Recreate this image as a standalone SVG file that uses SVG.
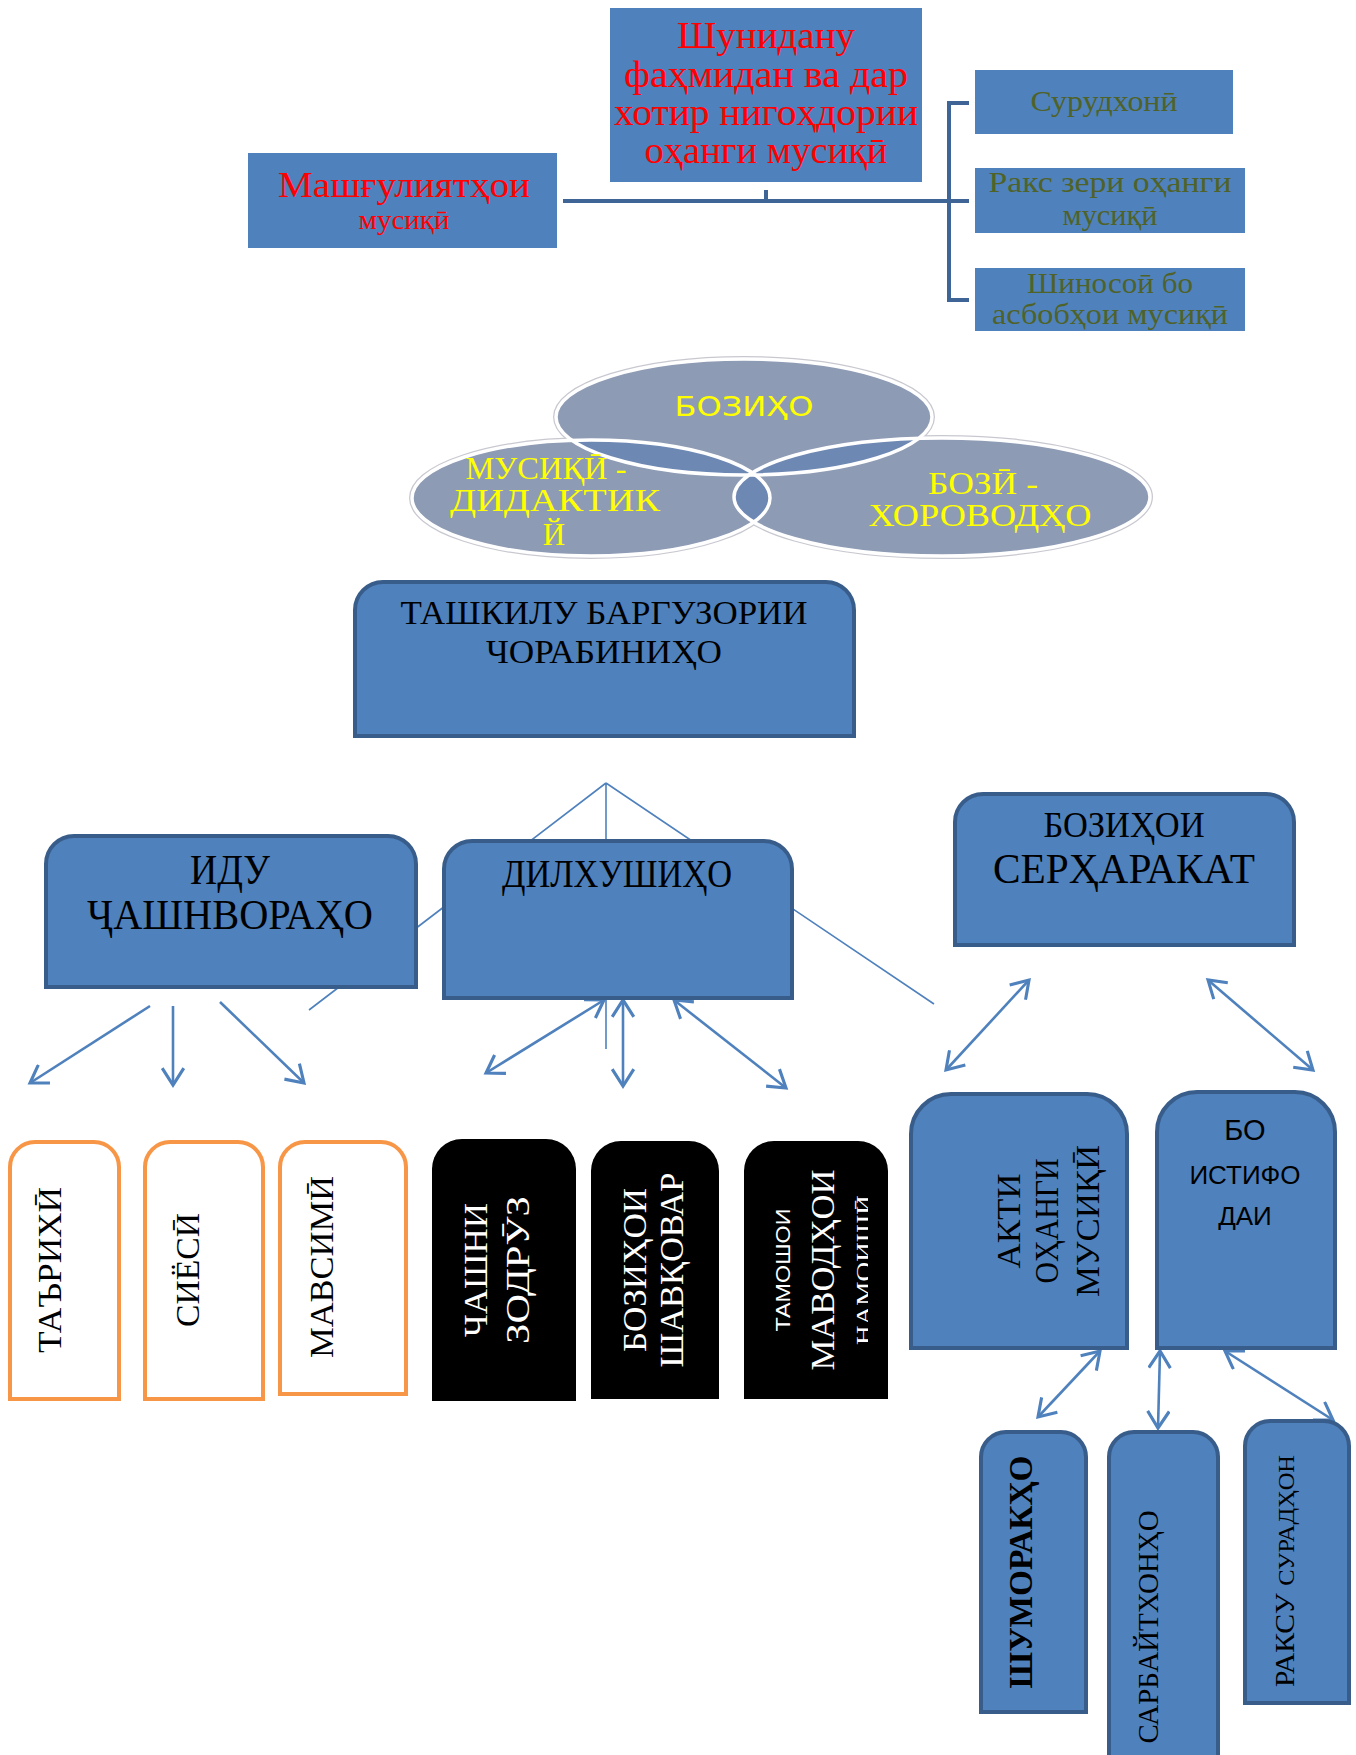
<svg xmlns="http://www.w3.org/2000/svg" width="1356" height="1755" viewBox="0 0 1356 1755">
<style>
.serif{font-family:"Liberation Serif","Times New Roman",serif}
.sans{font-family:"Liberation Sans",Arial,sans-serif}
.dv{font-family:"DejaVu Sans Condensed","DejaVu Sans",sans-serif}
.flat{fill:#4F81BD}
.blue{fill:#4F81BD;stroke:#385D8A;stroke-width:4}
.orange{fill:#FFFFFF;stroke:#F79646;stroke-width:4}
.black{fill:#000000}
.red{fill:#FF0000;text-anchor:middle}
.olive{fill:#4F6228;text-anchor:middle}
.yel{fill:#FFFF00;text-anchor:middle}
.blk{fill:#000000;text-anchor:middle}
.wht{fill:#FFFFFF;text-anchor:middle}
.thin{stroke:#4F81BD;stroke-width:1.6;fill:none}
.arr{stroke:#4F81BD;stroke-width:2.6;fill:none;marker-end:url(#ah)}
.arr2{stroke:#4F81BD;stroke-width:2.6;fill:none;marker-end:url(#ah);marker-start:url(#ah)}
.bar{stroke:#3F6596;stroke-width:4;fill:none}
.ell{fill:#8E9BB4}
.ov{fill:#6E88B4}
.eo{fill:none;stroke:#FFFFFF;stroke-width:3.5}
.es{fill:none;stroke:#C8C8D0;stroke-width:6}
</style>
<defs>
<marker id="ah" markerUnits="userSpaceOnUse" markerWidth="24" markerHeight="24" refX="16" refY="10" orient="auto-start-reverse" viewBox="0 0 20 20">
<path d="M2,1 L16,10 L2,19" fill="none" stroke="#4F81BD" stroke-width="2.6"/>
</marker>
<clipPath id="cT"><ellipse cx="744" cy="417" rx="188" ry="58"/></clipPath>
<clipPath id="cL"><ellipse cx="591" cy="498" rx="179" ry="58"/></clipPath>
<clipPath id="cR"><ellipse cx="942" cy="497" rx="208" ry="59"/></clipPath>
<clipPath id="cTam"><rect x="744" y="1141" width="124" height="258"/></clipPath>
</defs>

<g id="connectors">
<path class="bar" d="M563,201 L951,201 M766,190 L766,201 M969,103 L949,103 L949,300 L969,300 M949,201 L969,201"/>
<path class="thin" d="M606,783 L309,1010 M606,783 L606,1049 M606,783 L934,1004"/>
<path class="arr" d="M150,1006 L30,1083"/>
<path class="arr" d="M173,1006 L173,1085"/>
<path class="arr" d="M220,1002 L304,1083"/>
<path class="arr2" d="M604,1000 L486,1073"/>
<path class="arr2" d="M623,1000 L623,1086"/>
<path class="arr2" d="M674,1000 L786,1088"/>
<path class="arr2" d="M1029,980 L946,1070"/>
<path class="arr2" d="M1208,980 L1313,1070"/>
<path class="arr2" d="M1100,1351 L1038,1417"/>
<path class="arr2" d="M1160,1351 L1158,1428"/>
<path class="arr2" d="M1225,1351 L1333,1420"/>
</g>

<g id="node-shunidanu">
<rect class="flat" x="610" y="8" width="312" height="174"/>
<text class="serif red" font-size="37" x="766" y="48" textLength="178" lengthAdjust="spacingAndGlyphs">Шунидану</text>
<text class="serif red" font-size="37" x="766" y="87" textLength="284" lengthAdjust="spacingAndGlyphs">фаҳмидан ва дар</text>
<text class="serif red" font-size="37" x="766" y="125" textLength="304" lengthAdjust="spacingAndGlyphs">хотир нигоҳдории</text>
<text class="serif red" font-size="37" x="766" y="163" textLength="243" lengthAdjust="spacingAndGlyphs">оҳанги мусиқӣ</text>
</g>

<g id="node-mashgul">
<rect class="flat" x="248" y="153" width="309" height="95"/>
<text class="serif red" font-size="36" x="404" y="197" textLength="252" lengthAdjust="spacingAndGlyphs">Машғулиятҳои</text>
<text class="serif red" font-size="27" x="404" y="229" textLength="91" lengthAdjust="spacingAndGlyphs">мусиқӣ</text>
</g>

<g id="node-surudkhoni">
<rect class="flat" x="975" y="70" width="258" height="64"/>
<text class="serif olive" font-size="30" x="1104" y="111" textLength="147" lengthAdjust="spacingAndGlyphs">Сурудхонӣ</text>
</g>
<g id="node-raqs">
<rect class="flat" x="975" y="168" width="270" height="65"/>
<text class="serif olive" font-size="29" x="1110" y="192" textLength="243" lengthAdjust="spacingAndGlyphs">Ракс зери оҳанги</text>
<text class="serif olive" font-size="29" x="1110" y="225" textLength="95" lengthAdjust="spacingAndGlyphs">мусиқӣ</text>
</g>
<g id="node-shinosoi">
<rect class="flat" x="975" y="268" width="270" height="63"/>
<text class="serif olive" font-size="29" x="1110" y="293" textLength="166" lengthAdjust="spacingAndGlyphs">Шиносоӣ бо</text>
<text class="serif olive" font-size="29" x="1110" y="324" textLength="236" lengthAdjust="spacingAndGlyphs">асбобҳои мусиқӣ</text>
</g>

<g id="node-venn">
<ellipse class="es" cx="744" cy="417" rx="188" ry="58"/>
<ellipse class="es" cx="591" cy="498" rx="179" ry="58"/>
<ellipse class="es" cx="942" cy="497" rx="208" ry="59"/>
<ellipse class="ell" cx="744" cy="417" rx="188" ry="58"/>
<ellipse class="ell" cx="591" cy="498" rx="179" ry="58"/>
<ellipse class="ell" cx="942" cy="497" rx="208" ry="59"/>
<ellipse class="ov" cx="744" cy="417" rx="188" ry="58" clip-path="url(#cL)"/>
<ellipse class="ov" cx="744" cy="417" rx="188" ry="58" clip-path="url(#cR)"/>
<ellipse class="ov" cx="591" cy="498" rx="179" ry="58" clip-path="url(#cR)"/>
<ellipse class="eo" cx="744" cy="417" rx="188" ry="58"/>
<ellipse class="eo" cx="591" cy="498" rx="179" ry="58"/>
<ellipse class="eo" cx="942" cy="497" rx="208" ry="59"/>
<text class="dv yel" font-size="27" x="744" y="416" textLength="139" lengthAdjust="spacingAndGlyphs">БОЗИҲО</text>
<text class="serif yel" font-size="31" x="546" y="479" textLength="161" lengthAdjust="spacingAndGlyphs">МУСИҚӢ -</text>
<text class="serif yel" font-size="31" x="555" y="511" textLength="210" lengthAdjust="spacingAndGlyphs">ДИДАКТИК</text>
<text class="serif yel" font-size="31" x="554" y="545">Й</text>
<text class="serif yel" font-size="31" x="983" y="494" textLength="110" lengthAdjust="spacingAndGlyphs">БОЗӢ -</text>
<text class="serif yel" font-size="31" x="980" y="526" textLength="223" lengthAdjust="spacingAndGlyphs">ХОРОВОДҲО</text>
</g>

<g id="node-tashkil">
<path class="blue" d="M355,736 L355,610 A28,28 0 0 1 383,582 L826,582 A28,28 0 0 1 854,610 L854,736 Z"/>
<text class="serif blk" font-size="33" x="604" y="624" textLength="407" lengthAdjust="spacingAndGlyphs">ТАШКИЛУ БАРГУЗОРИИ</text>
<text class="serif blk" font-size="33" x="604" y="663" textLength="236" lengthAdjust="spacingAndGlyphs">ЧОРАБИНИҲО</text>
</g>

<g id="node-idu">
<path class="blue" d="M46,987 L46,864 A28,28 0 0 1 74,836 L388,836 A28,28 0 0 1 416,864 L416,987 Z"/>
<text class="serif blk" font-size="42" x="230" y="884" textLength="80" lengthAdjust="spacingAndGlyphs">ИДУ</text>
<text class="serif blk" font-size="42" x="230" y="929" textLength="286" lengthAdjust="spacingAndGlyphs">ҶАШНВОРАҲО</text>
</g>

<g id="node-dilkhush">
<path class="blue" d="M444,998 L444,869 A28,28 0 0 1 472,841 L764,841 A28,28 0 0 1 792,869 L792,998 Z"/>
<text class="serif blk" font-size="40" x="617" y="887" textLength="230" lengthAdjust="spacingAndGlyphs">ДИЛХУШИҲО</text>
</g>

<g id="node-serharakat">
<path class="blue" d="M955,945 L955,822 A28,28 0 0 1 983,794 L1266,794 A28,28 0 0 1 1294,822 L1294,945 Z"/>
<text class="serif blk" font-size="36" x="1124" y="837" textLength="161" lengthAdjust="spacingAndGlyphs">БОЗИҲОИ</text>
<text class="serif blk" font-size="42" x="1124" y="883" textLength="262" lengthAdjust="spacingAndGlyphs">СЕРҲАРАКАТ</text>
</g>

<g id="node-tarikhi">
<path class="orange" d="M10,1399 L10,1167 A25,25 0 0 1 35,1142 L94,1142 A25,25 0 0 1 119,1167 L119,1399 Z"/>
<text class="serif blk" font-size="33" transform="translate(61,1270) rotate(-90)" textLength="166" lengthAdjust="spacingAndGlyphs">ТАЪРИХӢ</text>
</g>
<g id="node-siyosi">
<path class="orange" d="M145,1399 L145,1167 A25,25 0 0 1 170,1142 L238,1142 A25,25 0 0 1 263,1167 L263,1399 Z"/>
<text class="serif blk" font-size="33" transform="translate(199,1270) rotate(-90)" textLength="114" lengthAdjust="spacingAndGlyphs">СИЁСӢ</text>
</g>
<g id="node-mavsimi">
<path class="orange" d="M280,1394 L280,1167 A25,25 0 0 1 305,1142 L381,1142 A25,25 0 0 1 406,1167 L406,1394 Z"/>
<text class="serif blk" font-size="33" transform="translate(333,1267) rotate(-90)" textLength="182" lengthAdjust="spacingAndGlyphs">МАВСИМӢ</text>
</g>

<g id="node-chashni">
<path class="black" d="M432,1401 L432,1169 A30,30 0 0 1 462,1139 L546,1139 A30,30 0 0 1 576,1169 L576,1401 Z"/>
<text class="serif wht" font-size="34" transform="translate(487,1270) rotate(-90)" textLength="134" lengthAdjust="spacingAndGlyphs">ЧАШНИ</text>
<text class="serif wht" font-size="34" transform="translate(529,1270) rotate(-90)" textLength="148" lengthAdjust="spacingAndGlyphs">ЗОДРӮЗ</text>
</g>
<g id="node-shavqovar">
<path class="black" d="M591,1399 L591,1171 A30,30 0 0 1 621,1141 L689,1141 A30,30 0 0 1 719,1171 L719,1399 Z"/>
<text class="serif wht" font-size="34" transform="translate(646,1270) rotate(-90)" textLength="164" lengthAdjust="spacingAndGlyphs">БОЗИҲОИ</text>
<text class="serif wht" font-size="34" transform="translate(683,1270) rotate(-90)" textLength="195" lengthAdjust="spacingAndGlyphs">ШАВҚОВАР</text>
</g>
<g id="node-tamoshoi">
<path class="black" d="M744,1399 L744,1171 A30,30 0 0 1 774,1141 L858,1141 A30,30 0 0 1 888,1171 L888,1399 Z"/>
<text class="sans wht" font-size="21" transform="translate(790,1270) rotate(-90)" textLength="123" lengthAdjust="spacingAndGlyphs">ТАМОШОИ</text>
<text class="serif wht" font-size="34" transform="translate(834,1270) rotate(-90)" textLength="201" lengthAdjust="spacingAndGlyphs">МАВОДҲОИ</text>
<g clip-path="url(#cTam)">
<text class="serif wht" font-size="22" transform="translate(871,1270) rotate(-90)" textLength="150" lengthAdjust="spacingAndGlyphs">НАМОИШӢ</text>
</g>
</g>

<g id="node-akti">
<path class="blue" d="M911,1348 L911,1134 A40,40 0 0 1 951,1094 L1087,1094 A40,40 0 0 1 1127,1134 L1127,1348 Z"/>
<text class="serif blk" font-size="34" transform="translate(1020,1221) rotate(-90)" textLength="95" lengthAdjust="spacingAndGlyphs">АКТИ</text>
<text class="serif blk" font-size="34" transform="translate(1058,1221) rotate(-90)" textLength="125" lengthAdjust="spacingAndGlyphs">ОҲАНГИ</text>
<text class="serif blk" font-size="34" transform="translate(1099,1221) rotate(-90)" textLength="152" lengthAdjust="spacingAndGlyphs">МУСИҚӢ</text>
</g>

<g id="node-istifoda">
<path class="blue" d="M1157,1348 L1157,1132 A40,40 0 0 1 1197,1092 L1295,1092 A40,40 0 0 1 1335,1132 L1335,1348 Z"/>
<text class="sans blk" font-size="29" x="1245" y="1140">БО</text>
<text class="sans blk" font-size="26" x="1245" y="1184">ИСТИФО</text>
<text class="sans blk" font-size="26" x="1245" y="1225">ДАИ</text>
</g>

<g id="node-shumorakho">
<path class="blue" d="M981,1712 L981,1457 A25,25 0 0 1 1006,1432 L1061,1432 A25,25 0 0 1 1086,1457 L1086,1712 Z"/>
<text class="serif blk" font-size="34" font-weight="bold" transform="translate(1032,1572) rotate(-90)" textLength="233" lengthAdjust="spacingAndGlyphs">ШУМОРАКҲО</text>
</g>
<g id="node-sarbait">
<path class="blue" d="M1109,1775 L1109,1457 A25,25 0 0 1 1134,1432 L1193,1432 A25,25 0 0 1 1218,1457 L1218,1775 Z"/>
<text class="serif blk" font-size="30" transform="translate(1158,1627) rotate(-90)" textLength="233" lengthAdjust="spacingAndGlyphs">САРБАЙТХОНҲО</text>
</g>
<g id="node-raksu">
<path class="blue" d="M1245,1703 L1245,1446 A25,25 0 0 1 1270,1421 L1324,1421 A25,25 0 0 1 1349,1446 L1349,1703 Z"/>
<text class="serif blk" transform="translate(1294,1571) rotate(-90)" textLength="232" lengthAdjust="spacingAndGlyphs"><tspan font-size="28">РАКСУ  </tspan><tspan font-size="23">СУРАДҲОН</tspan></text>
</g>
</svg>
